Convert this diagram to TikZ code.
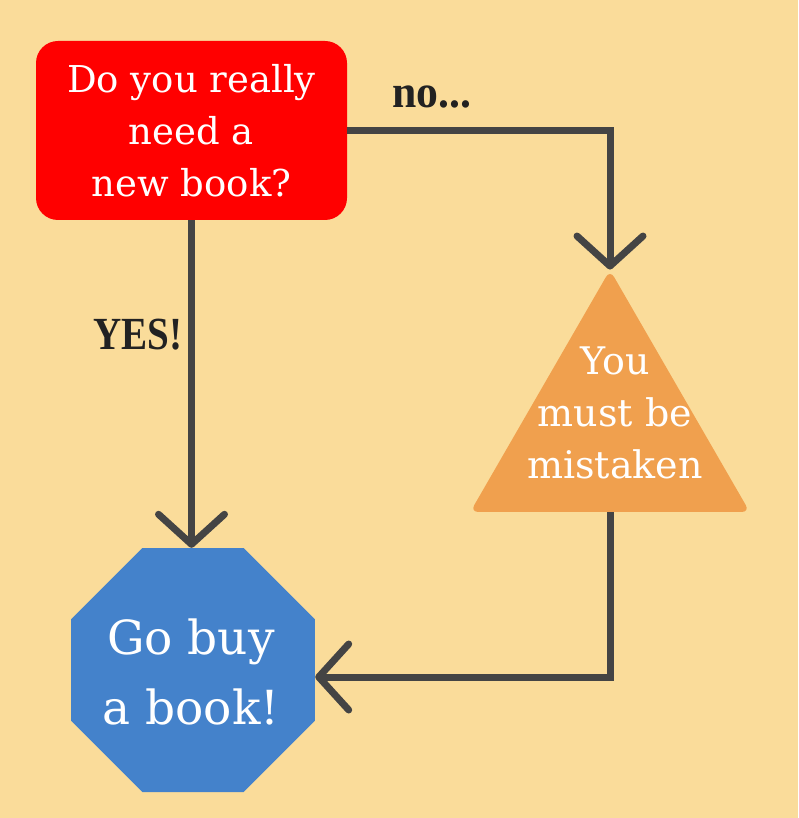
\documentclass[tikz,border=0pt]{standalone}
\usepackage{fontspec}
\setmainfont{DejaVu Serif}
\newfontfamily\labelfont{Liberation Serif}
\usetikzlibrary{shapes.geometric,arrows.meta}
\definecolor{bgc}{HTML}{FADC9A}
\definecolor{redc}{HTML}{FF0000}
\definecolor{orangec}{HTML}{F0A04E}
\definecolor{bluec}{HTML}{4482CB}
\definecolor{linec}{HTML}{444444}
\definecolor{labc}{HTML}{222222}
\tikzset{
  conn/.style={draw=linec,line width=7pt,-{Straight Barb[length=30pt,width=66pt,round]}},
  wtext/.style={text=white,align=center,font=\fontsize{37}{52}\selectfont},
  lab/.style={text=labc,font=\labelfont\bfseries\fontsize{46}{50}\selectfont}
}
\begin{document}
\begin{tikzpicture}[x=1pt,y=-1pt]
\fill[bgc] (0,0) rectangle (798,818);
\useasboundingbox (0,0) rectangle (798,818);
\node[fill=redc,rounded corners=22pt,minimum width=311pt,minimum height=179pt,inner sep=0pt,wtext] (q) at (191.5,130.5) {Do you really\\need a\\new book?};
\node[regular polygon,regular polygon sides=3,minimum size=322.7pt,fill=orangec,rounded corners=8pt,inner sep=0pt] (tri) at (610,431.3) {};
\node[wtext,font=\fontsize{38}{52}\selectfont] (tt) at (615,413) {You\\must be\\mistaken};
\node[regular polygon,regular polygon sides=8,minimum size=264.1pt,fill=bluec,inner sep=0pt] (oct) at (193,670) {};
\node[wtext,font=\fontsize{47}{70}\selectfont] (ot) at (191,672) {Go buy\\a book!};
\draw[conn] (q.east) -| (tri.corner 1);
\draw[conn] (q.south) -- (q.south |- oct.north);
\draw[conn] (tri.south) |- ([yshift=-7pt]oct.east);
\node[lab] (no) at (432,97) {\scalebox{0.95}[1]{no...}};
\node[lab] (yes) at (138,335) {\scalebox{0.85}[1]{YES!}};
\end{tikzpicture}
\end{document}
